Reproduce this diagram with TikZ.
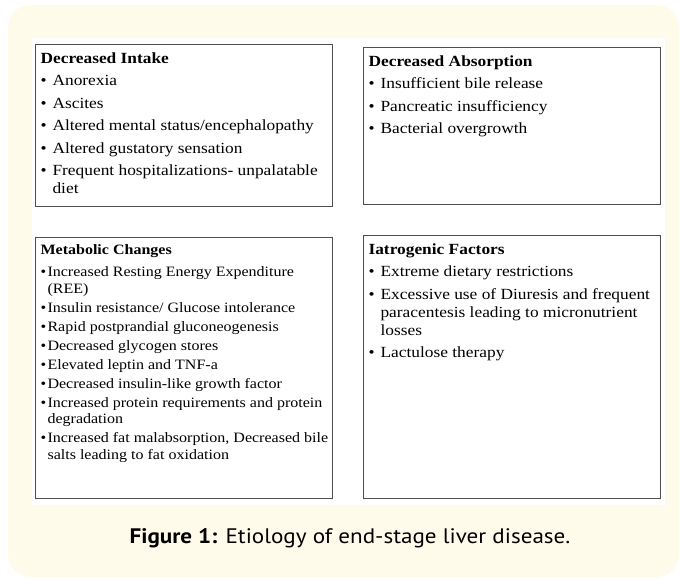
\documentclass[tikz,border=0pt]{standalone}
\usepackage{fontspec}
\setmainfont{Liberation Serif}[FakeStretch=1.12]
\newfontfamily\capfont{PT Sans}[FakeStretch=1.1]
\usetikzlibrary{positioning}

\definecolor{creambg}{HTML}{FFFBEA}
\definecolor{boxline}{HTML}{505050}

% bullet entries with hanging indent
\newcommand{\causeitem}[1]{\par\hangindent=12pt\hangafter=1\noindent\makebox[12pt][l]{\textbullet}#1}
\newcommand{\tightitem}[1]{\par\hangindent=7pt\hangafter=1\noindent\makebox[7pt][l]{\textbullet}#1}

\begin{document}
\begin{tikzpicture}[x=1pt, y=-1pt,
    % Define styles
    causebox/.style={
        rectangle,
        draw=boxline,
        line width=1.1pt,
        fill=white,
        anchor=north west,
        inner xsep=5pt,
        inner ysep=8pt,
        font=\fontsize{15.5}{18}\selectfont
    },
    smallbox/.style={
        causebox,
        inner ysep=7pt,
        font=\fontsize{14.3}{16.5}\selectfont
    },
    captiontext/.style={
        font=\capfont\fontsize{21}{25}\selectfont,
        anchor=base
    }
]
\useasboundingbox (0,0) rectangle (680,580);

% Background panels
\fill[creambg, rounded corners=22pt] (8,5) rectangle (679,577);
\fill[white] (32,38) rectangle (665,505);

% Top row
\node[causebox] (intake) at (35,44) {\parbox[c][146pt][t]{287pt}{\raggedright\parskip=4.5pt
    {\bfseries Decreased Intake}
    \causeitem{Anorexia}
    \causeitem{Ascites}
    \causeitem{Altered mental status/encephalopathy}
    \causeitem{Altered gustatory sensation}
    \causeitem{\mbox{Frequent hospitalizations- unpalatable}\newline diet}}};

\node[causebox] (absorption) at (363,47) {\parbox[c][141pt][t]{287pt}{\raggedright\parskip=4.5pt
    {\bfseries Decreased Absorption}
    \causeitem{Insufficient bile release}
    \causeitem{Pancreatic insufficiency}
    \causeitem{Bacterial overgrowth}}};

% Bottom row
\node[smallbox] (metabolic) at (35,237) {\parbox[c][247pt][t]{287pt}{\raggedright\parskip=2.5pt
    {\bfseries Metabolic Changes}\par\vspace{3.5pt}
    \tightitem{\mbox{Increased Resting Energy Expenditure}\newline (REE)}
    \tightitem{Insulin resistance/ Glucose intolerance}
    \tightitem{Rapid postprandial gluconeogenesis}
    \tightitem{Decreased glycogen stores}
    \tightitem{Elevated leptin and TNF-a}
    \tightitem{Decreased insulin-like growth factor}
    \tightitem{\mbox{Increased protein requirements and protein}\newline degradation}
    \tightitem{\mbox{Increased fat malabsorption, Decreased bile}\newline salts leading to fat oxidation}}};

\node[causebox] (iatrogenic) at (363,235) {\parbox[c][247pt][t]{287pt}{\raggedright\parskip=4.5pt
    {\bfseries Iatrogenic Factors}
    \causeitem{Extreme dietary restrictions}
    \causeitem{\mbox{Excessive use of Diuresis and frequent}\newline \mbox{paracentesis leading to micronutrient}\newline losses}
    \causeitem{Lactulose therapy}}};

% Caption
\node[captiontext] (caption) at (350,543) {\textbf{Figure 1:} Etiology of end-stage liver disease.};

\end{tikzpicture}
\end{document}
